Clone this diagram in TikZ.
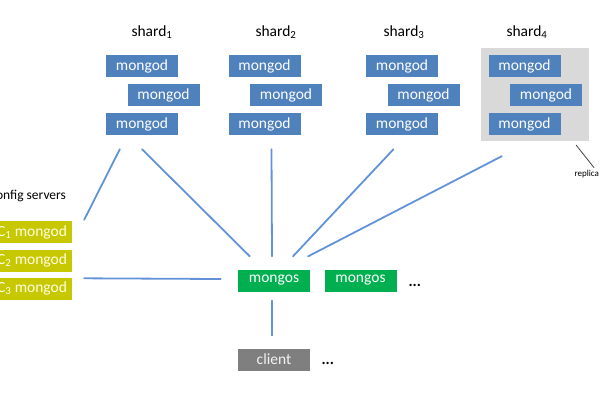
\documentclass[tikz,border=0pt]{standalone}
\usepackage{fontspec}
\setmainfont{Carlito}

\definecolor{mongodblue}{RGB}{79,129,189}
\definecolor{mongosgreen}{RGB}{0,176,80}
\definecolor{cfgyellow}{RGB}{200,200,0}
\definecolor{clientgray}{RGB}{127,127,127}
\definecolor{linkblue}{RGB}{98,146,216}
\definecolor{setgray}{RGB}{217,217,217}

\tikzset{
  box/.style={minimum width=72pt, minimum height=22pt, inner sep=0pt, text=white},
  mongod/.style={box, fill=mongodblue},
  mongos/.style={box, fill=mongosgreen},
  cfgbox/.style={box, minimum width=80pt, fill=cfgyellow, text=white!90!yellow},
  clientbox/.style={box, fill=clientgray, text=white!90!gray},
  link/.style={draw=linkblue, line width=1.8pt},
}

\begin{document}
\begin{tikzpicture}[x=1pt, y=-1pt, line join=round, line cap=round,
    font=\fontsize{15.5}{18}\selectfont]
  \useasboundingbox (0,0) rectangle (600,400);

  % replica set background
  \node[fill=setgray, minimum width=108pt, minimum height=93pt, inner sep=0pt] (set4) at (535,94.5) {};

  \foreach \i/\x/\t in {1/142/152, 2/264.5/276, 3/402/404, 4/524.5/527} {
    \node (shard\i) at (\t,32) {shard\textsubscript{\i}};
    \node[mongod] (s\i a) at (\x,66) {mongod};
    \node[mongod] (s\i b) at (\x+21.5,95) {mongod};
    \node[mongod] (s\i c) at (\x,124) {mongod};
  }

  \node[font=\fontsize{9}{10}\selectfont, anchor=west] (rep) at (571,174) {replica};

  \node[anchor=east, font=\fontsize{13.5}{16}\selectfont] (cfg) at (69.5,196) {Config servers};
  \foreach \i/\y in {1/232, 2/260.5, 3/288.5}
    \node[cfgbox] (c\i) at (32,\y) {C\textsubscript{\i} mongod};

  \node[mongos] (ms1) at (274,280.5) {mongos};
  \node[mongos] (ms2) at (360.5,280.5) {mongos};
  \node[anchor=west, font=\fontsize{15.5}{18}\bfseries] (dots1) at (405,285) {...};
  \node[clientbox] (cl) at (274,359.5) {client};
  \node[anchor=west, font=\fontsize{15.5}{18}\bfseries] (dots2) at (318,363) {...};

  \draw[link] ([xshift=14pt,yshift=-14pt]s1c.south west) -- ([xshift=12pt,yshift=1pt]c1.north east);
  \draw[link] ([yshift=-14pt]s1c.south) -- ([xshift=12pt,yshift=13pt]ms1.north west);
  \draw[link] ([xshift=7pt,yshift=-14pt]s2c.south) -- ([xshift=-2pt,yshift=13pt]ms1.north);
  \draw[link] ([xshift=-8.5pt,yshift=-14pt]s3c.south) -- ([xshift=19pt,yshift=13pt]ms1.north);
  \draw[link] ([xshift=21pt,yshift=-15pt]set4.south west) -- ([xshift=-2pt,yshift=13pt]ms1.north east);
  \draw[link] ([xshift=12pt,yshift=-1pt]c3.north east) -- ([xshift=-17pt,yshift=1.5pt]ms1.west);
  \draw[link] ([xshift=-2pt,yshift=-9pt]ms1.south) -- ([xshift=-2pt,yshift=13pt]cl.north);

  % replica set pointer
  \draw[black!75, line width=0.8pt] ([xshift=-13pt,yshift=-4pt]set4.south east) -- ([xshift=23pt,yshift=-1pt]rep.north west);
\end{tikzpicture}
\end{document}
